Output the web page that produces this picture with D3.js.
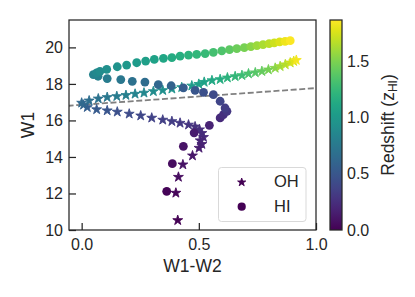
<!DOCTYPE html>
<html>
<head>
<meta charset="utf-8">
<script src="https://cdn.jsdelivr.net/npm/d3@7"></script>
<style>
  body { margin: 0; background: #fff; }
  svg text { font-family: "Liberation Sans", Arial, sans-serif; fill: #262626; }
</style>
</head>
<body>
<div id="chart"></div>
<script>
//Width and height
let w = 415;
let h = 297;
let plot = {left: 69, right: 316, top: 20, bottom: 230};
let bar = {left: 330, right: 342};

// HI track (circles): W1-W2 colour, W1 magnitude, redshift
let hiW12 = [0.363, 0.387, 0.434, 0.480, 0.545, 0.591, 0.605, 0.620, 0.612, 0.591,
             0.562, 0.520, 0.484, 0.434, 0.382, 0.327, 0.270, 0.216, 0.167, 0.109,
             0.070, 0.050, 0.064, 0.078, 0.107, 0.152, 0.192, 0.235, 0.273, 0.310,
             0.349, 0.385, 0.420, 0.456, 0.491, 0.527, 0.562, 0.598, 0.631, 0.662,
             0.694, 0.722, 0.748, 0.774, 0.800, 0.822, 0.845, 0.868, 0.890];
let hiW1 = [12.12, 13.63, 14.58, 15.32, 15.73, 16.14, 16.32, 16.50, 16.68, 17.05,
            17.41, 17.54, 17.65, 17.78, 17.90, 17.96, 18.10, 18.14, 18.24, 18.29,
            18.42, 18.51, 18.60, 18.69, 18.80, 18.94, 19.03, 19.16, 19.25, 19.34,
            19.40, 19.44, 19.52, 19.58, 19.62, 19.66, 19.73, 19.81, 19.88, 19.93,
            19.99, 20.04, 20.10, 20.15, 20.21, 20.25, 20.30, 20.33, 20.37];
let hiZ = [0.02, 0.06, 0.10, 0.14, 0.18, 0.22, 0.26, 0.30, 0.34, 0.38,
           0.42, 0.46, 0.50, 0.54, 0.58, 0.62, 0.66, 0.70, 0.74, 0.78,
           0.81, 0.84, 0.87, 0.90, 0.93, 0.96, 0.99, 1.02, 1.05, 1.08,
           1.11, 1.14, 1.17, 1.20, 1.23, 1.26, 1.31, 1.35, 1.40, 1.45,
           1.49, 1.54, 1.59, 1.63, 1.68, 1.73, 1.77, 1.82, 1.86];

// OH track (stars)
let ohW12 = [0.410, 0.402, 0.413, 0.432, 0.473, 0.501, 0.513, 0.506, 0.520, 0.513,
             0.503, 0.484, 0.456, 0.420, 0.385, 0.346, 0.299, 0.252, 0.203, 0.152,
             0.109, 0.064, 0.024, 0.008, 0.000, 0.032, 0.071, 0.109, 0.150, 0.189,
             0.228, 0.266, 0.306, 0.346, 0.385, 0.427, 0.470, 0.500, 0.523, 0.556,
             0.591, 0.622, 0.655, 0.684, 0.712, 0.741, 0.769, 0.797, 0.826, 0.847,
             0.869, 0.890, 0.905, 0.916];
let ohW1 = [10.53, 12.03, 12.90, 13.58, 14.07, 14.49, 14.70, 14.90, 15.08, 15.30,
            15.50, 15.66, 15.76, 15.86, 15.95, 16.03, 16.14, 16.26, 16.36, 16.47,
            16.54, 16.60, 16.72, 16.85, 16.96, 17.08, 17.19, 17.27, 17.32, 17.38,
            17.45, 17.51, 17.59, 17.65, 17.73, 17.81, 17.90, 17.99, 18.10, 18.19,
            18.25, 18.34, 18.41, 18.47, 18.56, 18.62, 18.69, 18.78, 18.87, 18.96,
            19.06, 19.16, 19.24, 19.30];
let ohZ = [0.00, 0.03, 0.06, 0.09, 0.12, 0.15, 0.17, 0.19, 0.21, 0.23,
           0.25, 0.27, 0.29, 0.31, 0.33, 0.35, 0.37, 0.40, 0.43, 0.46,
           0.49, 0.52, 0.55, 0.59, 0.63, 0.67, 0.71, 0.75, 0.78, 0.81,
           0.84, 0.87, 0.90, 0.93, 0.96, 0.99, 1.02, 1.05, 1.08, 1.12,
           1.16, 1.20, 1.24, 1.28, 1.33, 1.38, 1.43, 1.48, 1.54, 1.60,
           1.66, 1.72, 1.78, 1.84];

// dashed dividing line (two ends)
let cutW12 = [-0.06, 1.0];
let cutW1 = [16.80, 17.77];

let xTicks = [0.0, 0.5, 1.0];
let yTicks = [10, 12, 14, 16, 18, 20];
let zTicks = [0.0, 0.5, 1.0, 1.5];
let zMax = 1.87;

let x = d3.scaleLinear().domain([-0.054, 1.0]).range([plot.left, plot.right]);
let y = d3.scaleLinear().domain([10, 21.5]).range([plot.bottom, plot.top]);
let zy = d3.scaleLinear().domain([0, zMax]).range([plot.bottom, plot.top]);
let color = d3.scaleSequential(d3.interpolateViridis).domain([0, zMax]);

let svg = d3.select("#chart")
            .append("svg")
            .attr("width", w)
            .attr("height", h);

svg.append("defs").append("clipPath").attr("id", "clip")
   .append("rect")
   .attr("x", plot.left).attr("y", plot.top)
   .attr("width", plot.right - plot.left).attr("height", plot.bottom - plot.top);

//five pointed star like matplotlib's '*'
function starPath(R) {
    let r = R * 0.381966;
    let pts = [];
    for (let i = 0; i < 10; i++) {
        let a = -Math.PI / 2 + i * Math.PI / 5;
        let rr = (i % 2 === 0) ? R : r;
        pts.push([rr * Math.cos(a), rr * Math.sin(a)]);
    }
    return "M" + pts.map(function(p) { return p[0].toFixed(2) + "," + p[1].toFixed(2); }).join("L") + "Z";
}

let g = svg.append("g").attr("clip-path", "url(#clip)");

// dashed line
g.append("line")
 .attr("x1", x(cutW12[0])).attr("y1", y(cutW1[0]))
 .attr("x2", x(cutW12[1])).attr("y2", y(cutW1[1]))
 .style("stroke", "#808080")
 .style("stroke-width", 1.8)
 .style("stroke-dasharray", "6,2.6");

let ohData = ohW12.map(function(d, i) { return {x: d, y: ohW1[i], z: ohZ[i]}; });
let hiData = hiW12.map(function(d, i) { return {x: d, y: hiW1[i], z: hiZ[i]}; });

g.selectAll("path.oh")
 .data(ohData)
 .enter()
 .append("path")
 .attr("class", "oh")
 .attr("d", starPath(5.2))
 .attr("transform", function(d) { return "translate(" + x(d.x) + "," + y(d.y) + ")"; })
 .style("fill", function(d) { return color(d.z); })
 .style("stroke", function(d) { return color(d.z); })
 .style("stroke-width", 0.9)
 .style("stroke-linejoin", "round");

g.selectAll("circle.hi")
 .data(hiData)
 .enter()
 .append("circle")
 .attr("class", "hi")
 .attr("cx", function(d) { return x(d.x); })
 .attr("cy", function(d) { return y(d.y); })
 .attr("r", 4.4)
 .style("fill", function(d) { return color(d.z); });

// axes
let xAxis = d3.axisBottom(x).tickValues(xTicks).tickFormat(d3.format(".1f"))
              .tickSizeInner(-7).tickSizeOuter(0).tickPadding(9);
let yAxis = d3.axisLeft(y).tickValues(yTicks).tickFormat(d3.format("d"))
              .tickSizeInner(-7).tickSizeOuter(0).tickPadding(6);

let gx = svg.append("g").attr("transform", "translate(0," + plot.bottom + ")").call(xAxis);
let gy = svg.append("g").attr("transform", "translate(" + plot.left + ",0)").call(yAxis);
[gx, gy].forEach(function(a) {
    a.select(".domain").remove();
    a.selectAll(".tick line").style("stroke", "#262626").style("stroke-width", 1.25);
    a.selectAll(".tick text").style("font-size", "16px").style("fill", "#262626");
});

// frame
svg.append("rect")
   .attr("x", plot.left).attr("y", plot.top)
   .attr("width", plot.right - plot.left).attr("height", plot.bottom - plot.top)
   .style("fill", "none")
   .style("stroke", "#262626")
   .style("stroke-width", 1.25);

// axis labels
svg.append("text")
   .attr("x", (plot.left + plot.right) / 2)
   .attr("y", 272)
   .attr("text-anchor", "middle")
   .style("font-size", "17.5px")
   .text("W1-W2");

svg.append("text")
   .attr("transform", "translate(33.5," + ((plot.top + plot.bottom) / 2) + ") rotate(-90)")
   .attr("text-anchor", "middle")
   .style("font-size", "17.5px")
   .text("W1");

// legend
let leg = svg.append("g");
leg.append("rect")
   .attr("x", 218.5).attr("y", 167.5)
   .attr("width", 87.5).attr("height", 54)
   .attr("rx", 3)
   .style("fill", "#fff").style("fill-opacity", 0.8)
   .style("stroke", "#d9d9d9").style("stroke-width", 1);
leg.append("path")
   .attr("d", starPath(4.3))
   .attr("transform", "translate(241.7,182.3)")
   .style("fill", color(0))
   .style("stroke", color(0))
   .style("stroke-width", 0.9);
leg.append("circle")
   .attr("cx", 241.7).attr("cy", 206.7).attr("r", 4.1)
   .style("fill", color(0));
leg.append("text").attr("x", 274).attr("y", 186.5).style("font-size", "16.5px").text("OH");
leg.append("text").attr("x", 274).attr("y", 211.5).style("font-size", "16.5px").text("HI");

// colorbar
let grad = svg.select("defs").append("linearGradient")
   .attr("id", "viridis")
   .attr("x1", 0).attr("y1", 1).attr("x2", 0).attr("y2", 0);
d3.range(0, 1.0001, 0.05).forEach(function(t) {
    grad.append("stop").attr("offset", t).attr("stop-color", d3.interpolateViridis(t));
});
svg.append("rect")
   .attr("x", bar.left).attr("y", plot.top)
   .attr("width", bar.right - bar.left).attr("height", plot.bottom - plot.top)
   .style("fill", "url(#viridis)")
   .style("stroke", "#262626")
   .style("stroke-width", 1.25);

let zAxis = d3.axisRight(zy).tickValues(zTicks).tickFormat(d3.format(".1f"))
              .tickSize(0).tickPadding(5);
let gz = svg.append("g").attr("transform", "translate(" + bar.right + ",0)").call(zAxis);
gz.select(".domain").remove();
gz.selectAll(".tick text").style("font-size", "16px").style("fill", "#262626");

let zLabel = svg.append("text")
   .attr("transform", "translate(394," + ((plot.top + plot.bottom) / 2) + ") rotate(-90)")
   .attr("text-anchor", "middle")
   .style("font-size", "17.5px");
zLabel.append("tspan").text("Redshift (");
zLabel.append("tspan").text("z");
zLabel.append("tspan").attr("dy", 3).style("font-size", "12px").text("HI");
zLabel.append("tspan").attr("dy", -3).text(")");
</script>
</body>
</html>
